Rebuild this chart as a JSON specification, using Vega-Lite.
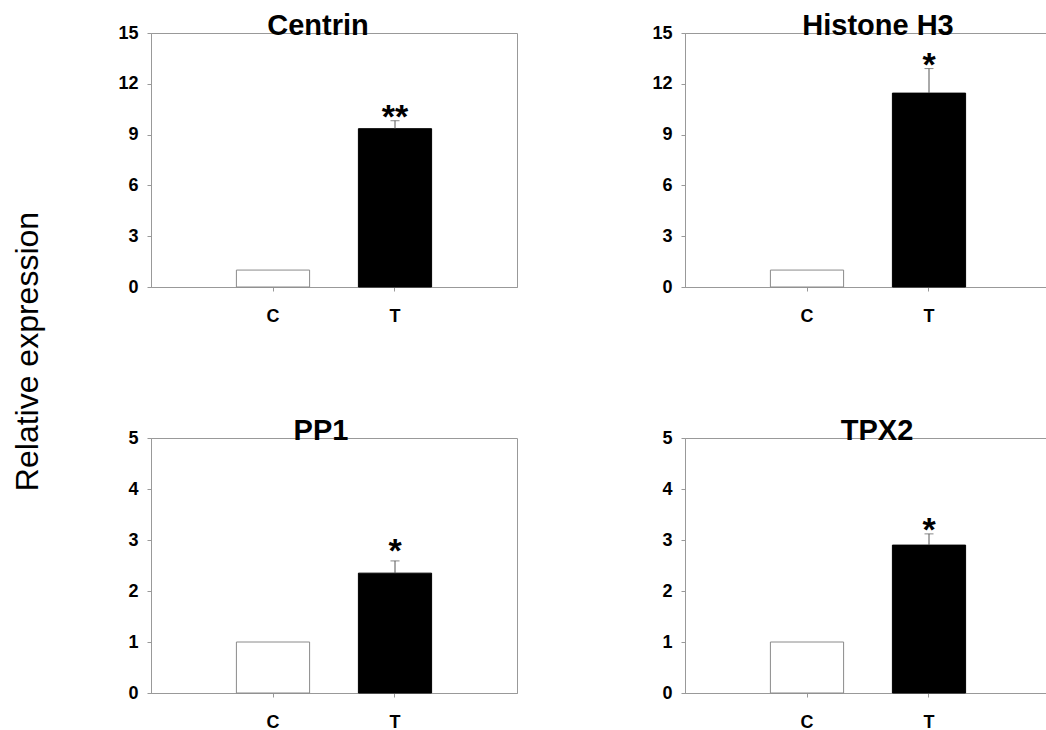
{
  "$schema": "https://vega.github.io/schema/vega-lite/v6.json",
  "padding": {"left": 10, "top": 11, "right": 0, "bottom": 0},
  "background": "white",
  "data": {
    "values": [
      {"gene": "Centrin", "group": "C", "value": 1, "upper": null, "sig": ""},
      {"gene": "Centrin", "group": "T", "value": 9.35, "upper": 9.82, "sig": "**"},
      {"gene": "Histone H3", "group": "C", "value": 1, "upper": null, "sig": ""},
      {"gene": "Histone H3", "group": "T", "value": 11.45, "upper": 12.9, "sig": "*"},
      {"gene": "PP1", "group": "C", "value": 1, "upper": null, "sig": ""},
      {"gene": "PP1", "group": "T", "value": 2.35, "upper": 2.59, "sig": "*"},
      {"gene": "TPX2", "group": "C", "value": 1, "upper": null, "sig": ""},
      {"gene": "TPX2", "group": "T", "value": 2.9, "upper": 3.12, "sig": "*"}
    ]
  },
  "bounds": "flush",
  "columns": 2,
  "spacing": {"row": 151, "column": 168},
  "concat": [
    {
      "width": 366, "height": 254,
      "title": {"text": "Centrin", "dx": -16},
      "transform": [{"filter": "datum.gene === 'Centrin'"}],
      "encoding": {
        "x": {"field": "group", "type": "nominal", "scale": {"domain": ["C", "T"], "paddingInner": 0.4, "paddingOuter": 0.7}, "axis": {"title": null, "labelAngle": 0}}
      },
      "layer": [
        {
          "mark": {"type": "bar", "strokeWidth": 1},
          "encoding": {
            "y": {"field": "value", "type": "quantitative", "scale": {"domain": [0, 15], "nice": false},
              "axis": {"values": [0, 3, 6, 9, 12, 15], "title": "Relative expression", "titleFontSize": 32, "titleFontWeight": "normal", "titleAngle": 270, "titleAlign": "center", "titleBaseline": "middle", "titleX": -124, "titleY": 318}},
            "fill": {"field": "group", "type": "nominal", "scale": {"domain": ["C", "T"], "range": ["white", "black"]}, "legend": null},
            "stroke": {"field": "group", "type": "nominal", "scale": {"domain": ["C", "T"], "range": ["#8a8a8a", "black"]}, "legend": null}
          }
        },
        {
          "transform": [{"filter": "isValid(datum.upper)"}],
          "mark": {"type": "rule", "color": "#555", "strokeWidth": 1},
          "encoding": {"y": {"field": "value", "type": "quantitative"}, "y2": {"field": "upper"}}
        },
        {
          "transform": [{"filter": "isValid(datum.upper)"}],
          "mark": {"type": "tick", "color": "#555", "size": 9, "thickness": 1, "orient": "horizontal"},
          "encoding": {"y": {"field": "upper", "type": "quantitative"}}
        },
        {
          "transform": [{"filter": "isValid(datum.upper)"}],
          "mark": {"type": "text", "fontSize": 34, "fontWeight": "bold", "baseline": "alphabetic", "dy": 7, "color": "black"},
          "encoding": {"y": {"field": "upper", "type": "quantitative"}, "text": {"field": "sig"}}
        }
      ]
    },
    {
      "width": 366, "height": 254,
      "title": {"text": "Histone H3", "dx": 10},
      "transform": [{"filter": "datum.gene === 'Histone H3'"}],
      "encoding": {
        "x": {"field": "group", "type": "nominal", "scale": {"domain": ["C", "T"], "paddingInner": 0.4, "paddingOuter": 0.7}, "axis": {"title": null, "labelAngle": 0}}
      },
      "layer": [
        {
          "mark": {"type": "bar", "strokeWidth": 1},
          "encoding": {
            "y": {"field": "value", "type": "quantitative", "scale": {"domain": [0, 15], "nice": false}, "axis": {"values": [0, 3, 6, 9, 12, 15], "title": null}},
            "fill": {"field": "group", "type": "nominal", "scale": {"domain": ["C", "T"], "range": ["white", "black"]}, "legend": null},
            "stroke": {"field": "group", "type": "nominal", "scale": {"domain": ["C", "T"], "range": ["#8a8a8a", "black"]}, "legend": null}
          }
        },
        {
          "transform": [{"filter": "isValid(datum.upper)"}],
          "mark": {"type": "rule", "color": "#555", "strokeWidth": 1},
          "encoding": {"y": {"field": "value", "type": "quantitative"}, "y2": {"field": "upper"}}
        },
        {
          "transform": [{"filter": "isValid(datum.upper)"}],
          "mark": {"type": "tick", "color": "#555", "size": 9, "thickness": 1, "orient": "horizontal"},
          "encoding": {"y": {"field": "upper", "type": "quantitative"}}
        },
        {
          "transform": [{"filter": "isValid(datum.upper)"}],
          "mark": {"type": "text", "fontSize": 34, "fontWeight": "bold", "baseline": "alphabetic", "dy": 7, "color": "black"},
          "encoding": {"y": {"field": "upper", "type": "quantitative"}, "text": {"field": "sig"}}
        }
      ]
    },
    {
      "width": 366, "height": 255,
      "title": {"text": "PP1", "dx": -13},
      "transform": [{"filter": "datum.gene === 'PP1'"}],
      "encoding": {
        "x": {"field": "group", "type": "nominal", "scale": {"domain": ["C", "T"], "paddingInner": 0.4, "paddingOuter": 0.7}, "axis": {"title": null, "labelAngle": 0}}
      },
      "layer": [
        {
          "mark": {"type": "bar", "strokeWidth": 1},
          "encoding": {
            "y": {"field": "value", "type": "quantitative", "scale": {"domain": [0, 5], "nice": false}, "axis": {"values": [0, 1, 2, 3, 4, 5], "title": null}},
            "fill": {"field": "group", "type": "nominal", "scale": {"domain": ["C", "T"], "range": ["white", "black"]}, "legend": null},
            "stroke": {"field": "group", "type": "nominal", "scale": {"domain": ["C", "T"], "range": ["#8a8a8a", "black"]}, "legend": null}
          }
        },
        {
          "transform": [{"filter": "isValid(datum.upper)"}],
          "mark": {"type": "rule", "color": "#555", "strokeWidth": 1},
          "encoding": {"y": {"field": "value", "type": "quantitative"}, "y2": {"field": "upper"}}
        },
        {
          "transform": [{"filter": "isValid(datum.upper)"}],
          "mark": {"type": "tick", "color": "#555", "size": 9, "thickness": 1, "orient": "horizontal"},
          "encoding": {"y": {"field": "upper", "type": "quantitative"}}
        },
        {
          "transform": [{"filter": "isValid(datum.upper)"}],
          "mark": {"type": "text", "fontSize": 34, "fontWeight": "bold", "baseline": "alphabetic", "dy": 1, "color": "black"},
          "encoding": {"y": {"field": "upper", "type": "quantitative"}, "text": {"field": "sig"}}
        }
      ]
    },
    {
      "width": 366, "height": 255,
      "title": {"text": "TPX2", "dx": 9},
      "transform": [{"filter": "datum.gene === 'TPX2'"}],
      "encoding": {
        "x": {"field": "group", "type": "nominal", "scale": {"domain": ["C", "T"], "paddingInner": 0.4, "paddingOuter": 0.7}, "axis": {"title": null, "labelAngle": 0}}
      },
      "layer": [
        {
          "mark": {"type": "bar", "strokeWidth": 1},
          "encoding": {
            "y": {"field": "value", "type": "quantitative", "scale": {"domain": [0, 5], "nice": false}, "axis": {"values": [0, 1, 2, 3, 4, 5], "title": null}},
            "fill": {"field": "group", "type": "nominal", "scale": {"domain": ["C", "T"], "range": ["white", "black"]}, "legend": null},
            "stroke": {"field": "group", "type": "nominal", "scale": {"domain": ["C", "T"], "range": ["#8a8a8a", "black"]}, "legend": null}
          }
        },
        {
          "transform": [{"filter": "isValid(datum.upper)"}],
          "mark": {"type": "rule", "color": "#555", "strokeWidth": 1},
          "encoding": {"y": {"field": "value", "type": "quantitative"}, "y2": {"field": "upper"}}
        },
        {
          "transform": [{"filter": "isValid(datum.upper)"}],
          "mark": {"type": "tick", "color": "#555", "size": 9, "thickness": 1, "orient": "horizontal"},
          "encoding": {"y": {"field": "upper", "type": "quantitative"}}
        },
        {
          "transform": [{"filter": "isValid(datum.upper)"}],
          "mark": {"type": "text", "fontSize": 34, "fontWeight": "bold", "baseline": "alphabetic", "dy": 7, "color": "black"},
          "encoding": {"y": {"field": "upper", "type": "quantitative"}, "text": {"field": "sig"}}
        }
      ]
    }
  ],
  "config": {
    "font": "Liberation Sans",
    "view": {"stroke": "#999", "strokeWidth": 1},
    "axis": {"grid": false, "domainColor": "#999", "tickColor": "#999", "tickSize": 4, "labelFontSize": 18, "labelFontWeight": "bold", "labelColor": "black", "titleColor": "black"},
    "axisX": {"labelPadding": 16},
    "axisY": {"labelPadding": 9},
    "title": {"fontSize": 29, "fontWeight": "bold", "color": "black", "frame": "group", "offset": -17, "baseline": "alphabetic"}
  }
}
